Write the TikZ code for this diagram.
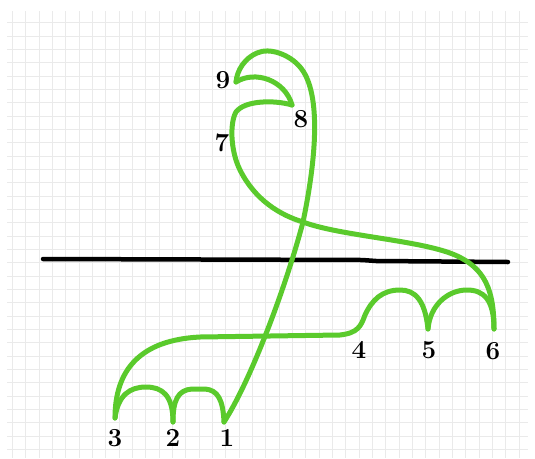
\documentclass[tikz,border=0pt]{standalone}
\usepackage{fontspec}
\usepackage{tikz}
\definecolor{hgreen}{RGB}{90,202,44}
\definecolor{gridgray}{RGB}{234,234,234}
\tikzset{
  gridline/.style={draw=gridgray, line width=0.8pt},
  strand/.style={draw=hgreen, line width=5pt, line cap=round, line join=round},
  axis/.style={draw=black, line width=4.5pt, line cap=round, line join=round},
  num/.style={font=\fontsize{26}{26}\selectfont\bfseries, text=black, inner sep=0pt}
}
\begin{document}
\begin{tikzpicture}[x=1pt,y=-1pt]
\useasboundingbox (0,0) rectangle (535,458);
\fill[white] (0,0) rectangle (535,458);
% grid
\foreach \i in {0,...,38} {
  \draw[gridline] ({12.3+13.333*\i},11) -- ({12.3+13.333*\i},458);
}
\foreach \j in {0,...,33} {
  \draw[gridline] (7,{22.7+13.333*\j}) -- (528,{22.7+13.333*\j});
}
% black line
\draw[axis] (43,259) -- (362,260) -- (376,261) -- (508,262);
% green curve: 1 -> 9
\draw[strand] (224,422) .. controls (250,382) and (285,290) .. (303,222)
  .. controls (318,150) and (320,90) .. (300,67)
  .. controls (290,55) and (270,47) .. (257,53)
  .. controls (245,58) and (237,70) .. (236,82);
% 9 -> 8
\draw[strand] (236,82) .. controls (255,70) and (285,80) .. (292,105);
% 8 -> 7 -> 6
\draw[strand] (292,105) .. controls (275,100) and (245,100) .. (236,112)
  .. controls (230,122) and (230,150) .. (240,170)
  .. controls (255,200) and (280,215) .. (303,222)
  .. controls (340,236) and (420,240) .. (455,255)
  .. controls (485,268) and (494,290) .. (494,329);
% 6 -> 5
\draw[strand] (494,329) .. controls (494,300) and (484,290) .. (467,290)
  .. controls (448,290) and (430,305) .. (428,329);
% 5 -> 4 -> 3
\draw[strand] (428,329) .. controls (425,300) and (415,290) .. (400,290)
  .. controls (382,290) and (372,300) .. (365,315)
  .. controls (361,326) and (358,333) .. (340,335)
  -- (200,337)
  .. controls (140,340) and (115,370) .. (115,418);
% 3 -> 2
\draw[strand] (115,418) .. controls (118,395) and (130,387) .. (146,387)
  .. controls (162,387) and (173,395) .. (173,422);
% 2 -> 1
\draw[strand] (173,422) .. controls (173,400) and (178,390) .. (192,389)
  -- (205,389) .. controls (218,390) and (223,400) .. (224,422);
% labels
\node[num] (n1) at (227,438) {1};
\node[num] (n2) at (173,438) {2};
\node[num] (n3) at (115,438) {3};
\node[num] (n4) at (359,350) {4};
\node[num] (n5) at (429,350) {5};
\node[num] (n6) at (493,351) {6};
\node[num] (n7) at (222,143) {7};
\node[num] (n8) at (301,119) {8};
\node[num] (n9) at (223,80) {9};
\end{tikzpicture}
\end{document}
